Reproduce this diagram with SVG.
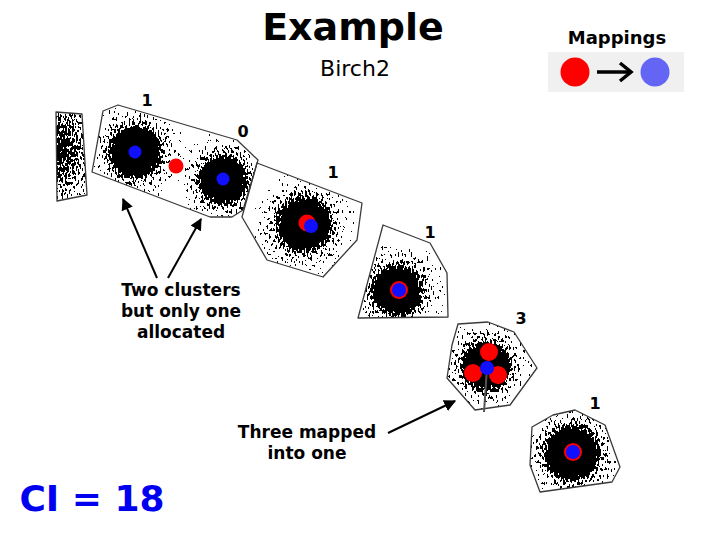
<svg xmlns="http://www.w3.org/2000/svg" width="720" height="540" viewBox="0 0 720 540">
<style>
.hull{fill:none;stroke:#3a3a3a;stroke-width:1.3;stroke-linejoin:round}
.lbl{font-family:"DejaVu Sans",Verdana,sans-serif;font-weight:bold;font-size:16px;fill:#000;text-anchor:middle}
.note{font-family:"DejaVu Sans",Verdana,sans-serif;font-weight:bold;font-size:17px;fill:#000;text-anchor:middle}
.blue{fill:#1010ff}
.red{fill:#ff0000}
.call{stroke:#000;stroke-width:2;fill:none;marker-end:url(#ah)}
</style>
<defs>
<radialGradient id="dens">
<stop offset="0" stop-color="#000" stop-opacity="1"/>
<stop offset="0.35" stop-color="#000" stop-opacity="0.85"/>
<stop offset="0.55" stop-color="#000" stop-opacity="0.47"/>
<stop offset="0.8" stop-color="#000" stop-opacity="0.33"/>
<stop offset="1" stop-color="#000" stop-opacity="0.29"/>
</radialGradient>
<radialGradient id="dens0">
<stop offset="0" stop-color="#000" stop-opacity="0.68"/>
<stop offset="0.6" stop-color="#000" stop-opacity="0.48"/>
<stop offset="1" stop-color="#000" stop-opacity="0.32"/>
</radialGradient>
<filter id="sp" x="-10%" y="-10%" width="120%" height="120%" color-interpolation-filters="sRGB">
<feTurbulence type="fractalNoise" baseFrequency="0.55 0.28" numOctaves="1" seed="7" result="n"/>
<feColorMatrix in="n" type="matrix" values="0 0 0 0 0  0 0 0 0 0  0 0 0 0 0  1 0 0 0 0" result="na"/>
<feComposite in="SourceGraphic" in2="na" operator="arithmetic" k1="0" k2="1" k3="-1" k4="0.5" result="d"/>
<feComponentTransfer in="d">
<feFuncR type="linear" slope="0" intercept="0"/>
<feFuncG type="linear" slope="0" intercept="0"/>
<feFuncB type="linear" slope="0" intercept="0"/>
<feFuncA type="discrete" tableValues="0 1"/>
</feComponentTransfer>
</filter>
<marker id="ah" viewBox="0 0 10 10" refX="9" refY="5" markerWidth="6" markerHeight="6" orient="auto" markerUnits="strokeWidth">
<path d="M0,0 L10,5 L0,10 z" fill="#000"/>
</marker>
<clipPath id="c0"><polygon points="56,112 82,114 87,195 57,201"/></clipPath>
<clipPath id="c1"><polygon points="103,111 118,105 237,140 258,160 243,210 232,217 210,217 92,172"/></clipPath>
<clipPath id="c3"><polygon points="257,163 362,203 357,240 323,277 267,260 242,217"/></clipPath>
<clipPath id="c4"><polygon points="383,225 430,243 447,273 448,317 358,318"/></clipPath>
<clipPath id="c5"><polygon points="458,324 488,322 514,332 537,368 510,405 475,410 447,378 452,345"/></clipPath>
<clipPath id="c6"><polygon points="532,427 553,415 575,410 605,425 620,467 612,482 540,492 530,465"/></clipPath>
</defs>
<rect width="720" height="540" fill="#fff"/>

<g id="title">
<text x="353" y="40" font-family="'DejaVu Sans',Verdana,sans-serif" font-weight="bold" font-size="38" text-anchor="middle">Example</text>
<text x="355" y="76" font-family="'DejaVu Sans',Verdana,sans-serif" font-size="22" text-anchor="middle">Birch2</text>
</g>

<g id="mappings">
<text x="617" y="44" font-family="'DejaVu Sans',Verdana,sans-serif" font-weight="bold" font-size="18" text-anchor="middle">Mappings</text>
<rect x="548" y="52" width="136" height="40" fill="#f0f0f0"/>
<circle cx="575" cy="72" r="14.5" class="red"/>
<circle cx="655" cy="72" r="14.5" fill="#6464f5"/>
<path d="M597,72 H630" stroke="#000" stroke-width="3.5"/>
<path d="M620,63 L631,72 L620,81" stroke="#000" stroke-width="3.5" fill="none"/>
</g>

<g id="cluster0">
<g clip-path="url(#c0)"><ellipse cx="58" cy="150" rx="40" ry="60" fill="url(#dens0)" filter="url(#sp)"/></g>
<polygon class="hull" points="56,112 82,114 87,195 57,201"/>
</g>

<g id="cluster12">
<g clip-path="url(#c1)">
<circle cx="135" cy="152" r="52" fill="url(#dens)" filter="url(#sp)"/>
<circle cx="223" cy="180" r="48" fill="url(#dens)" filter="url(#sp)"/>
</g>
<polygon class="hull" points="103,111 118,105 237,140 258,160 243,210 232,217 210,217 92,172"/>
<circle cx="135" cy="152" r="6.5" class="blue"/>
<circle cx="176" cy="166" r="7.5" class="red"/>
<circle cx="223" cy="179" r="6.5" class="blue"/>
<text class="lbl" x="147" y="106">1</text>
<text class="lbl" x="243" y="137">0</text>
</g>

<g id="cluster3">
<g clip-path="url(#c3)"><circle cx="304" cy="224" r="54" fill="url(#dens)" filter="url(#sp)"/></g>
<polygon class="hull" points="257,163 362,203 357,240 323,277 267,260 242,217"/>
<circle cx="307" cy="223" r="8.5" class="red"/>
<circle cx="311" cy="226" r="7" class="blue"/>
<text class="lbl" x="333" y="178">1</text>
</g>

<g id="cluster4">
<g clip-path="url(#c4)"><circle cx="397" cy="290" r="50" fill="url(#dens)" filter="url(#sp)"/></g>
<polygon class="hull" points="383,225 430,243 447,273 448,317 358,318"/>
<circle cx="399" cy="290" r="9" class="red"/>
<circle cx="399" cy="290" r="7" class="blue"/>
<text class="lbl" x="430" y="238">1</text>
</g>

<g id="cluster5">
<g clip-path="url(#c5)"><circle cx="486" cy="366" r="48" fill="url(#dens)" filter="url(#sp)"/></g>
<polygon class="hull" points="458,324 488,322 514,332 537,368 510,405 475,410 447,378 452,345"/>
<path d="M487,368 L484,412" stroke="#555" stroke-width="2"/>
<circle cx="489" cy="352" r="9" class="red"/>
<circle cx="473" cy="373" r="9" class="red"/>
<circle cx="498" cy="375" r="9" class="red"/>
<circle cx="487" cy="368" r="7" class="blue"/>
<text class="lbl" x="521" y="324">3</text>
</g>

<g id="cluster6">
<g clip-path="url(#c6)"><circle cx="572" cy="453" r="54" fill="url(#dens)" filter="url(#sp)"/></g>
<polygon class="hull" points="532,427 553,415 575,410 605,425 620,467 612,482 540,492 530,465"/>
<circle cx="573" cy="452" r="9" class="red"/>
<circle cx="573" cy="452" r="7" class="blue"/>
<text class="lbl" x="595" y="409">1</text>
</g>

<g id="connectors">
<path class="call" d="M157,278 L123,199"/>
<path class="call" d="M168,278 L201,219"/>
<path class="call" d="M388,433 L455,401"/>
</g>

<g id="notes">
<text class="note" x="181" y="296">Two clusters</text>
<text class="note" x="181" y="317">but only one</text>
<text class="note" x="181" y="338">allocated</text>
<text class="note" x="307" y="438">Three mapped</text>
<text class="note" x="307" y="459">into one</text>
<text x="92" y="511" font-family="'DejaVu Sans',Verdana,sans-serif" font-weight="bold" font-size="36" fill="#0000f0" text-anchor="middle">CI = 18</text>
</g>
</svg>
